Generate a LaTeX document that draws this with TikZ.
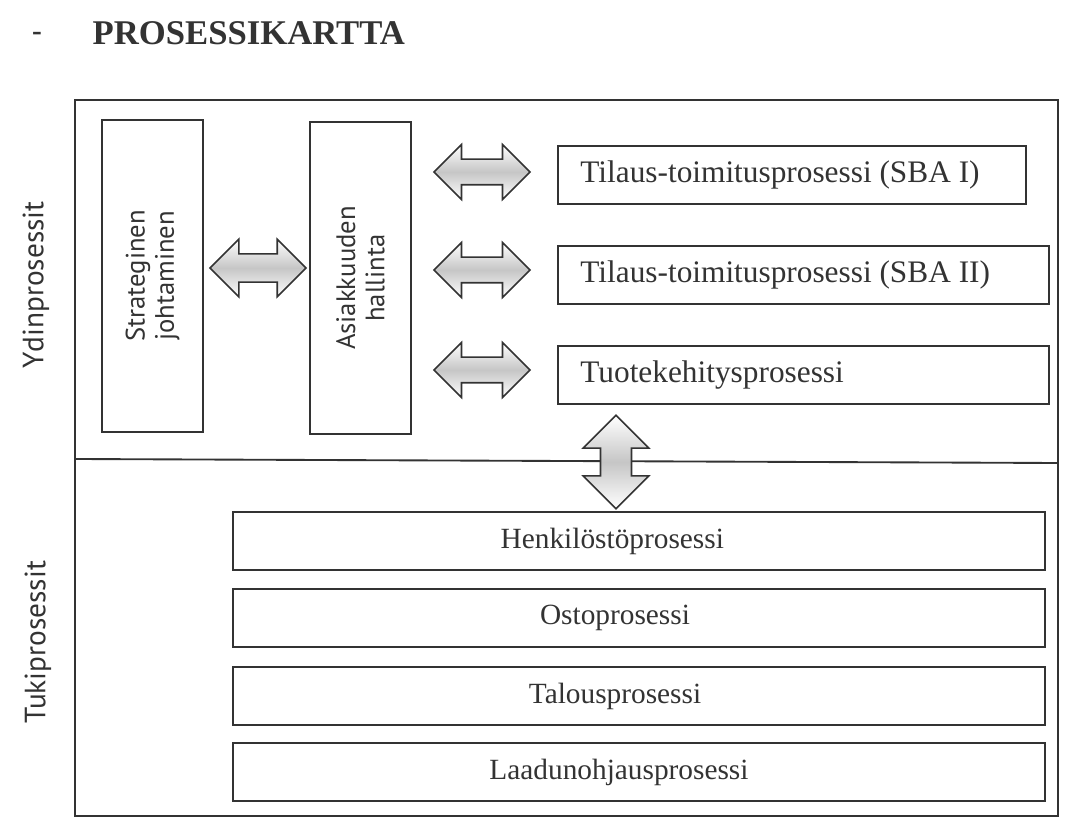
\documentclass[tikz,border=0pt]{standalone}
\usepackage{fontspec}
\setmainfont{Liberation Serif}
\newfontfamily\labelfont{PT Sans}
\usetikzlibrary{shapes.arrows}

\definecolor{ink}{HTML}{333333}

\begin{document}
\begin{tikzpicture}[x=0.75pt, y=-0.75pt,
		procbox/.style={draw=ink, line width=1.4pt, fill=white, inner sep=0pt},
		dblarrow/.style={double arrow, draw=ink, line width=1.2pt,
			top color=white, bottom color=white, middle color=gray!45,
			minimum height=72pt, inner xsep=0pt, inner ysep=9pt,
			double arrow head extend=11pt},
		boxtext/.style={text=ink, font=\fontsize{23.5}{26}\selectfont},
		sidetext/.style={rotate=90, text=ink, align=center}]
	\useasboundingbox (0,0) rectangle (1079,823);

	% title
	\node[text=ink, font=\fontsize{22}{24}\selectfont\bfseries] (dot) at (37,36) {-};
	\node[text=ink, anchor=west, font=\fontsize{26}{28}\selectfont\bfseries] (title) at (88,33) {PROSESSIKARTTA};

	% frame
	\draw[draw=ink, line width=1.4pt] (75,100) rectangle (1058,816);
	\draw[draw=ink, line width=1.4pt] (75,459) -- (1058,463);

	% side labels
	\node[sidetext, font=\labelfont\fontsize{22}{24}\selectfont] (ydin) at (36,285) {Ydinprosessit};
	\node[sidetext, font=\labelfont\fontsize{22}{24}\selectfont] (tuki) at (38,642) {Tukiprosessit};

	% core processes
	\draw node[procbox, minimum width=76pt, minimum height=234pt] (strat) at (152.5,276) {};
	\draw node[procbox, minimum width=76pt, minimum height=234pt] (asiak) at (360.5,278) {};
	\node[sidetext, font=\labelfont\fontsize{20}{22}\selectfont] at (strat) {Strateginen\\johtaminen};
	\node[sidetext, font=\labelfont\fontsize{20}{22}\selectfont] at (asiak) {Asiakkuuden\\hallinta};

	\draw node[procbox, anchor=west, minimum width=351pt, minimum height=44pt] (sba1) at (557,175) {};
	\draw node[procbox, anchor=west, minimum width=368pt, minimum height=44pt] (sba2) at (557,275) {};
	\draw node[procbox, anchor=west, minimum width=368pt, minimum height=44pt] (tuote) at (557,375) {};
	\node[boxtext, anchor=west] at ([xshift=14pt]sba1.west) {Tilaus-toimitusprosessi (SBA I)};
	\node[boxtext, anchor=west] at ([xshift=14pt]sba2.west) {Tilaus-toimitusprosessi (SBA II)};
	\node[boxtext, anchor=west] at ([xshift=14pt]tuote.west) {Tuotekehitysprosessi};

	\node[dblarrow, inner ysep=10pt] (a1) at (258,268) {};
	\node[dblarrow] (a2) at (482,172) {};
	\node[dblarrow] (a3) at (482,270) {};
	\node[dblarrow] (a4) at (482,370) {};
	\node[dblarrow, rotate=90, minimum height=70pt, inner ysep=11pt, double arrow head extend=13pt] (a5) at (616,462) {};

	% support processes
	\draw node[procbox, minimum width=609pt, minimum height=43pt] (henk) at (639,541) {};
	\draw node[procbox, minimum width=609pt, minimum height=43pt] (osto) at (639,618) {};
	\draw node[procbox, minimum width=609pt, minimum height=43pt] (talous) at (639,696) {};
	\draw node[procbox, minimum width=609pt, minimum height=43pt] (laatu) at (639,772) {};
	\node[boxtext, font=\fontsize{22}{24}\selectfont] at ([xshift=-20pt]henk.center) {Henkilöstöprosessi};
	\node[boxtext, font=\fontsize{22}{24}\selectfont] at ([xshift=-18pt]osto.center) {Ostoprosessi};
	\node[boxtext, font=\fontsize{22}{24}\selectfont] at ([xshift=-18pt]talous.center) {Talousprosessi};
	\node[boxtext, font=\fontsize{22}{24}\selectfont] at ([xshift=-15pt]laatu.center) {Laadunohjausprosessi};
\end{tikzpicture}
\end{document}
